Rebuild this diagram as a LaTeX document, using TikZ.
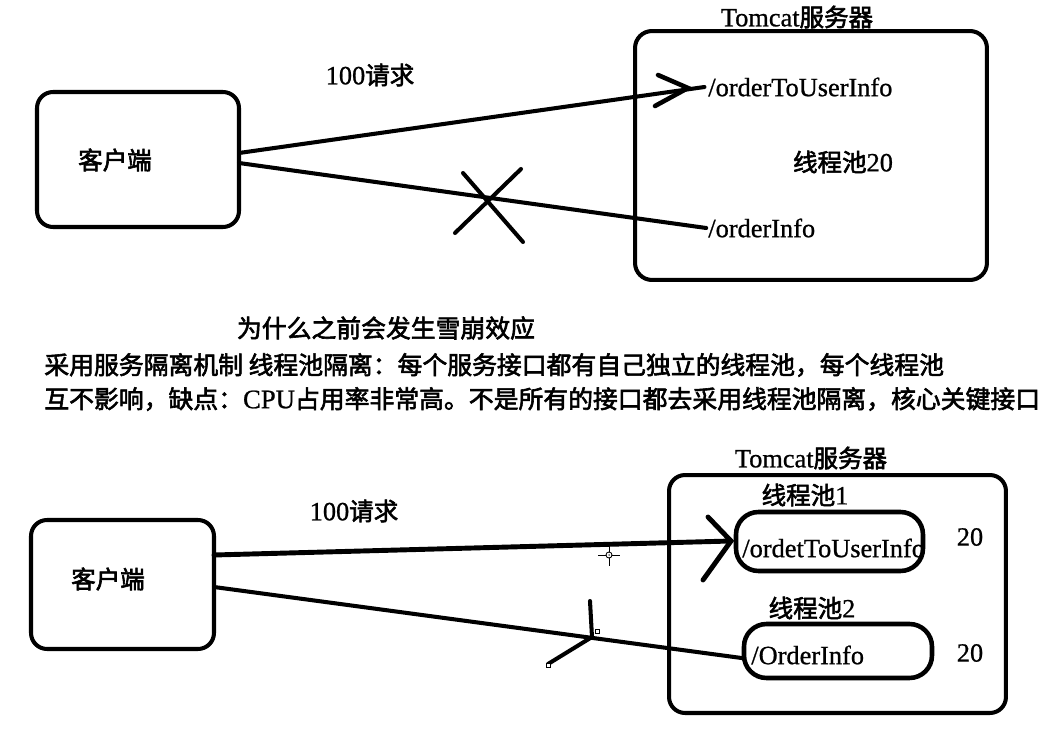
\documentclass[tikz,border=0pt]{standalone}
\usepackage{fontspec}
\setmainfont[FakeBold=0.8]{Liberation Serif}
\newfontfamily\cjk[Scale=0.93, FakeBold=2.4]{Noto Sans CJK SC}
\newcommand\zh[1]{{\cjk #1}}
\begin{document}
\begin{tikzpicture}[x=0.02cm,y=-0.02cm,
  box/.style={draw, line width=2.3pt, rounded corners=0.32cm, inner sep=0pt},
  pool/.style={draw, line width=2.6pt, rounded corners=0.45cm, inner sep=0pt},
  lbl/.style={inner sep=0pt, font=\fontsize{15}{18}\selectfont},
  midtxt/.style={inner sep=0pt, anchor=west, font=\fontsize{15.2}{18}\selectfont},
  conn/.style={line width=2.3pt, line cap=round},
  bconn/.style={line width=2.8pt, line cap=round},
  handle/.style={draw, fill=white, line width=0.4pt, minimum size=0.08cm, inner sep=0pt},
  cross/.style={line width=0.5pt}]
\useasboundingbox (0,0) rectangle (1063,730);
\fill[white] (0,0) rectangle (1063,730);

% ---------- top diagram ----------
\node[box, minimum width=4.04cm, minimum height=2.7cm] (c1) at (138,159.5) {};
\node[lbl] (c1t) at (115,160) {\zh{客户端}};
\node[box, rounded corners=0.34cm, minimum width=7.04cm, minimum height=4.98cm] (s1) at (811,155.5) {};
\node[lbl] (s1t) at (797,17) {Tomcat\zh{服务器}};
\node[lbl] (r1) at (370,75) {100\zh{请求}};
\node[lbl, anchor=west] (ep1) at (708,87) {/orderToUserInfo};
\node[lbl] (tp1) at (843,162) {\zh{线程池}20};
\node[lbl, anchor=west] (ep2) at (708,228) {/orderInfo};

\coordinate (a1) at (239,153);
\coordinate (a2) at (239,163);
\coordinate (tip1) at (688,88);
\draw[conn] (a1) -- ([xshift=-2pt]ep1.west);
\draw[conn, line width=2.6pt] (658,75) -- (tip1) -- (655,106);
\draw[conn] (a2) -- ([xshift=-1pt]ep2.west);
% cross mark
\draw[conn] (463,173) -- (523,242);
\draw[conn] (455,233) -- (521,169);

% ---------- middle text ----------
\node[midtxt, anchor=center] (q) at (386,328) {\zh{为什么之前会发生雪崩效应}};
\node[midtxt] (m1) at (44,365) {\zh{采用服务隔离机制 线程池隔离：每个服务接口都有自己独立的线程池，每个线程池}};
\node[midtxt] (m2) at (44,399) {\zh{互不影响，缺点：}CPU\zh{占用率非常高。不是所有的接口都去采用线程池隔离，核心关键接口}};

% ---------- bottom diagram ----------
\node[box, minimum width=3.66cm, minimum height=2.58cm] (c2) at (122.5,584.5) {};
\node[lbl] (c2t) at (108,579) {\zh{客户端}};
\node[box, minimum width=6.74cm, minimum height=4.76cm] (s2) at (837.5,594) {};
\node[lbl] (s2t) at (811,458) {Tomcat\zh{服务器}};
\node[lbl] (r2) at (354,511) {100\zh{请求}};
\node[lbl] (pl1) at (805,495) {\zh{线程池}1};
\node[pool, minimum width=3.74cm, minimum height=1.18cm] (p1) at (829.5,541.5) {};
\node[lbl, anchor=west] (p1t) at (742,548) {/ordetToUserInfo};
\node[lbl] (n1) at (970,537) {20};
\node[lbl] (pl2) at (812,608) {\zh{线程池}2};
\node[pool, minimum width=3.76cm, minimum height=1.08cm] (p2) at (838,651) {};
\node[lbl, anchor=west] (p2t) at (751,655) {/OrderInfo};
\node[lbl] (n2) at (970,653) {20};

\coordinate (b1) at (214,555);
\coordinate (b2) at (214,587);
\coordinate (tip2) at (731,541);
\draw[bconn] (b1) -- (tip2);
\draw[bconn] (708,517) -- (tip2) -- (703,580);
\draw[conn] (b2) -- ([yshift=-4pt]p2.west);
% broken mark
\coordinate (k) at (592,637);
\draw[conn] (590,601) -- (k) -- (548,664);
\node[handle] (h1) at (597,631) {};
\node[handle] (h2) at (548,665) {};
% cursor crosshair
\coordinate (cc) at (609,555);
\draw[cross] (598,555) -- (620,555);
\draw[cross] (609,545) -- (609,566);
\draw[cross, fill=white] (cc) circle (0.06cm);
\fill (cc) circle (0.015cm);
\end{tikzpicture}
\end{document}
